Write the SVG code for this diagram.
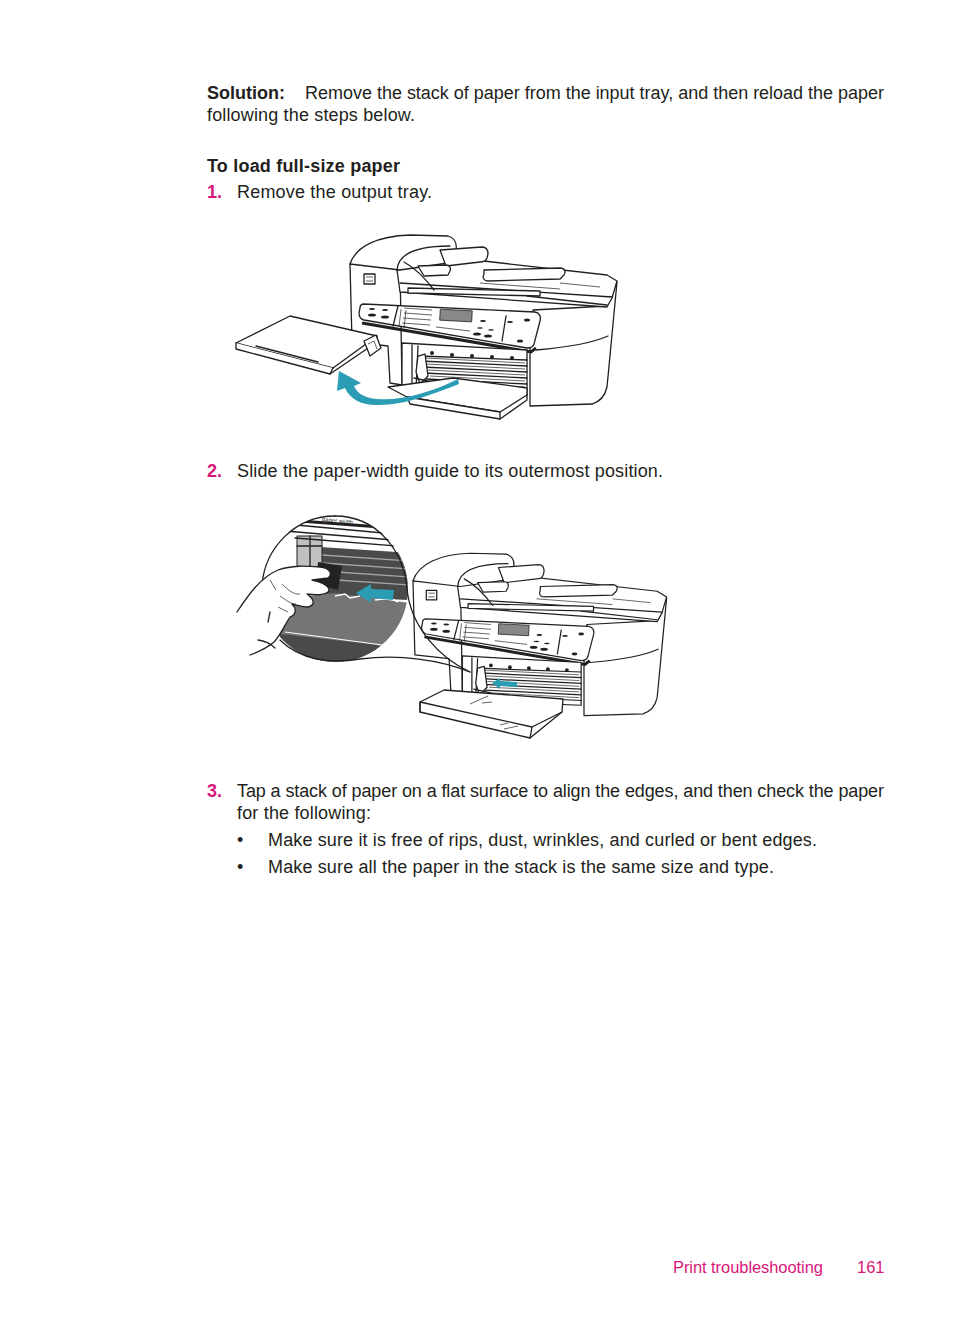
<svg xmlns="http://www.w3.org/2000/svg" width="954" height="1321" viewBox="0 0 954 1321">
<style>
text{font-family:"Liberation Sans",Arial,sans-serif;font-size:18px;fill:#231f20}
.b{font-weight:bold}
.pk{fill:#d9177a;font-size:16.5px}
.num{fill:#d9177a;font-weight:bold}
.ln{fill:none;stroke:#231f20;stroke-width:1.3;stroke-linejoin:round;stroke-linecap:round}
.lw{fill:#fff;stroke:#231f20;stroke-width:1.3;stroke-linejoin:round;stroke-linecap:round}
.th{fill:none;stroke:#231f20;stroke-width:0.7}
.teal{fill:#2a9db5}
</style>
<defs>
<g id="body">
  <!-- right body -->
  <path class="lw" d="M533,310 L607,306 L617,282 L607,387 C605,396 599,402 592,404 L530,406 L530,350 Z"/>
  <path class="ln" d="M536,350 C560,348 590,344 608,336"/>
  <!-- left body -->
  <path class="lw" d="M350,264 L400,266 L402,385 L390,383 L388,346 L352,342 Z"/>
  <rect class="ln" x="364" y="274" width="11" height="10"/>
  <path class="th" d="M366,277 L373,277 M366,281 L373,281"/>
  <!-- scanner lid -->
  <path class="lw" d="M397,270 L457,258 L607,275 L617,281 L612,298 L607,307 L400,292 Z"/>
  <path class="ln" d="M400,283 L612,297"/>
  <path class="ln" d="M527,296 L607,305"/>
  <path class="lw" d="M408,288 L540,291 L540,296 L408,293 Z"/>
  <path class="th" d="M560,283 L600,287 M480,283 L560,289"/>
  <!-- ADF dome -->
  <path class="lw" d="M350,264 C356,246 378,236 410,235 L448,236 C455,238 457,244 456,250 L455,262 L400,270 Z"/>
  <path class="ln" d="M397,270 C398,254 415,246 450,246"/>
  <!-- ADF input tray lip -->
  <path class="lw" d="M440,250 L482,247 C487,247 488,250 488,254 L487,258 C486,261 484,262 480,262 L446,266 Z"/>
  <!-- ADF output chute -->
  <path class="ln" d="M404,262 C415,268 425,278 434,290"/>
  <path class="lw" d="M418,266 L446,265 C450,265 451,268 450,271 L448,275 L424,276 Z"/>
  <!-- lid output tray -->
  <path class="lw" d="M484,270 L560,268 C565,268 566,272 564,275 L560,279 L488,281 C484,281 482,278 484,274 Z"/>
  <!-- control panel -->
  <path d="M362,323 L531,352 L536,348" fill="none" stroke="#231f20" stroke-width="3"/>
  <path class="lw" d="M364,304 L535,312 C540,313 541,317 540,321 L534,344 C533,347 530,348 527,348 L364,320 C360,319 359,317 359,313 L360,308 C360,305 362,304 364,304 Z"/>
  <path class="ln" d="M398,306 L393,326"/>
  <path class="ln" d="M506,316 L502,341"/>
  <rect x="440" y="310" width="32" height="11" fill="#888" stroke="#231f20" stroke-width="0.8" transform="rotate(3 456 315)"/>
  <g fill="#231f20">
    <ellipse cx="372" cy="315" rx="4" ry="1.6"/><ellipse cx="385" cy="317" rx="4" ry="1.6"/>
    <ellipse cx="372" cy="309" rx="3" ry="1"/><ellipse cx="385" cy="310" rx="3" ry="1"/>
    <ellipse cx="477" cy="334" rx="4" ry="1.6"/><ellipse cx="488" cy="336" rx="4" ry="1.6"/>
    <ellipse cx="520" cy="341" rx="3" ry="1.5"/><ellipse cx="527" cy="320" rx="3" ry="1.5"/>
    <ellipse cx="483" cy="321" rx="3" ry="1"/><ellipse cx="510" cy="322" rx="3" ry="1"/>
    <ellipse cx="480" cy="328" rx="3" ry="0.8"/><ellipse cx="491" cy="330" rx="3" ry="0.8"/>
  </g>
  <path class="th" d="M404,308 L432,310 M404,313 L432,315 M403,318 L431,320 M402,323 L430,325 M436,327 L470,331 M401,309 L399,327 M406,310 L404,328"/>
  <!-- input cavity -->
  <path class="lw" d="M402,343 L527,350 L527,395 L402,390 Z"/>
  <path class="ln" d="M412,345 L412,390 M418,346 L416,390"/>
  <path class="ln" d="M420,356 L527,360 M420,361 L527,366 M422,367 L527,372 M424,373 L527,378 M426,379 L527,384 M428,385 L527,390"/>
  <path class="th" d="M425,358 L525,363 M426,364 L525,369 M428,370 L525,375 M430,376 L525,381 M432,382 L525,387"/>
  <g fill="#231f20">
    <circle cx="432" cy="353" r="2"/><circle cx="452" cy="355" r="2"/><circle cx="472" cy="356" r="2"/><circle cx="492" cy="357" r="2"/><circle cx="512" cy="358" r="2"/>
  </g>
  <path class="lw" d="M418,356 L425,354 L428,376 L420,384 L416,372 Z"/>
  <path class="ln" d="M414,378 L432,382 L424,392"/>
</g>
</defs>

<!-- text -->
<g id="text">
<text x="207" y="99"><tspan class="b">Solution:</tspan><tspan x="305" textLength="579" lengthAdjust="spacing">Remove the stack of paper from the input tray, and then reload the paper</tspan></text>
<text x="207" y="121" textLength="208" lengthAdjust="spacing">following the steps below.</text>
<text class="b" x="207" y="172" textLength="193" lengthAdjust="spacing">To load full-size paper</text>
<text class="num" x="207" y="198">1.</text>
<text x="237" y="198" textLength="195" lengthAdjust="spacing">Remove the output tray.</text>
<text class="num" x="207" y="477">2.</text>
<text x="237" y="477" textLength="426" lengthAdjust="spacing">Slide the paper-width guide to its outermost position.</text>
<text class="num" x="207" y="797">3.</text>
<text x="237" y="797" textLength="647" lengthAdjust="spacing">Tap a stack of paper on a flat surface to align the edges, and then check the paper</text>
<text x="237" y="819" textLength="134" lengthAdjust="spacing">for the following:</text>
<text x="237" y="846">•</text>
<text x="268" y="846" textLength="549" lengthAdjust="spacing">Make sure it is free of rips, dust, wrinkles, and curled or bent edges.</text>
<text x="237" y="873">•</text>
<text x="268" y="873" textLength="506" lengthAdjust="spacing">Make sure all the paper in the stack is the same size and type.</text>
<text class="pk" x="673" y="1273" textLength="150" lengthAdjust="spacing">Print troubleshooting</text>
<text class="pk" x="857" y="1273">161</text>
</g>

<!-- illustration 1 -->
<g id="figure1">
  <use href="#body"/>
  <!-- input tray extension -->
  <path class="lw" d="M388,387 L453,378 L527,388 L527,395 L500,412 L407,397 Z"/>
  <path class="lw" d="M407,397 L500,412 L500,419 L410,404 Z"/>
  <path class="ln" d="M500,419 L527,400 L527,395"/>
  <!-- removed output tray -->
  <path class="lw" d="M236,343 L290,316 L377,336 L333,368 Z"/>
  <path class="lw" d="M236,343 L236,349 L330,374 L333,368"/>
  <path class="ln" d="M330,374 L377,342 L377,336"/>
  <path class="ln" d="M256,346 L318,362"/>
  <path class="lw" d="M364,341 L376,335 L381,348 L370,356 Z"/>
  <path class="th" d="M368,344 L374,341 L377,349"/>
  <!-- teal arrow -->
  <path class="teal" d="M458,379 C432,392 402,401 377,399 C364,398 357,393 354,386 L361,383 L339,371 L337,391 L345,388 C350,399 362,406 379,405 C406,405 436,393 459,384 Z"/>
</g>

<!-- illustration 2 -->
<g id="figure2">
  <use href="#body" transform="translate(80.5,330) scale(0.95)"/>
  <!-- output tray folded down -->
  <path class="lw" d="M420,702 L444,690 L563,699 L562,712 L530,738 L420,712 Z"/>
  <path class="ln" d="M420,712 L420,702 M530,738 L532,727 L420,702"/>
  <path class="ln" d="M532,727 L562,712"/>
  <path class="th" d="M500,725 L508,723 M504,729 L518,726 M482,703 L492,702 M488,696 L470,704"/>
  <!-- small teal arrow -->
  <path class="teal" d="M492,683 L500,678 L500,681 L517,682 L517,687 L500,686 L500,689 Z"/>
  <!-- magnifier -->
  <clipPath id="mag"><circle cx="335" cy="589" r="73"/></clipPath>
  <g clip-path="url(#mag)">
    <rect x="260" y="514" width="160" height="150" fill="#fff"/>
    <path d="M320,547 L410,553 L410,600 L320,596 Z" fill="#4a4a4a"/>
    <path d="M322,555 L410,561 M322,563 L410,569 M322,571 L410,577 M322,579 L410,585" stroke="#a5a5a5" stroke-width="1.4" fill="none"/>
    <path d="M270,600 L335,593 L410,603 L410,670 L270,670 Z" fill="#757575"/>
    <path d="M280,634 L370,644 L410,652 L410,670 L280,670 Z" fill="#4a4a4a"/>
    <path d="M285,632 L405,648" stroke="#fff" stroke-width="1" fill="none"/>
    <rect x="297" y="536" width="25" height="32" fill="#c0c0c0" stroke="#231f20" stroke-width="1"/>
    <path class="ln" d="M297,546 L322,546 M310,536 L310,568"/>
    <path class="ln" d="M285,524 L405,535 M285,531 L405,541 M295,538 L410,547"/>
    <path d="M280,518 L400,527 L400,530 L280,521 Z" fill="#231f20"/>
    <path d="M318,562 L342,566 L338,590 L316,584 Z" fill="#222"/>
    <path d="M335,596 L345,594 L350,598 L360,596 M375,600 L390,598 L398,602" stroke="#fff" stroke-width="1.5" fill="none"/>
    <path class="teal" d="M356,593 L371,584 L371,589 L394,590 L393,600 L371,598 L371,603 Z"/>
    <text x="322" y="523" style="font-size:6px" transform="rotate(6 340 520)">paper width</text>
  </g>
  <path class="ln" d="M335,516 C295,516 265,548 262,585"/>
  <path class="ln" d="M335,516 C378,516 404,552 407,589 C411,628 440,658 470,672"/>
  <path class="ln" d="M280,640 C300,660 330,664 360,659 C400,654 440,660 470,672"/>
  <!-- hand -->
  <path class="lw" d="M237,612 C249,594 260,578 278,570 C292,565 306,566 320,567 C330,568 333,574 328,578 L312,580 C322,582 332,587 328,592 C322,596 314,595 307,594 C314,599 316,605 308,607 C302,607 297,605 292,604 C297,609 296,615 290,617 C284,626 280,636 274,642 C266,649 258,652 250,655"/>
  <path class="th" d="M282,584 C288,590 294,595 300,594 M280,596 C286,600 292,605 296,604 M278,607 L288,612 M270,580 L276,590"/>
  <path class="ln" d="M268,622 L270,612 M258,640 C266,641 272,645 275,648"/>
</g>
</svg>
